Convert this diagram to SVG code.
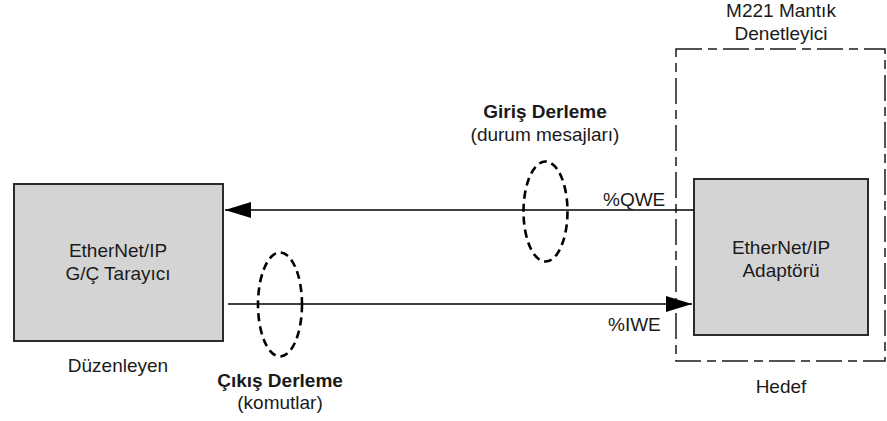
<svg xmlns="http://www.w3.org/2000/svg" width="887" height="421" viewBox="0 0 887 421">
<style>
  text { font-family: "Liberation Sans", Arial, sans-serif; font-size: 19px; fill: #1a1a1a; }
  .b { font-weight: bold; }
  .c { text-anchor: middle; }
  .box { fill: #d4d4d4; stroke: #2b2b2b; stroke-width: 2; }
  .cont { fill: none; stroke: #1a1a1a; stroke-width: 1.5; stroke-dasharray: 26 6 9 6; }
  .line { stroke: #000; stroke-width: 1.6; fill: none; }
  .ell { fill: none; stroke: #000; stroke-width: 2.6; stroke-dasharray: 8 5; }
</style>
<defs>
  <marker id="ah" markerUnits="userSpaceOnUse" markerWidth="26" markerHeight="18" refX="26" refY="9" orient="auto">
    <path d="M0,1 L26,9 L0,17 Z" fill="#000"/>
  </marker>
</defs>
<rect width="887" height="421" fill="#fff"/>

<g id="container">
  <rect class="cont" x="676" y="49" width="209" height="312"/>
  <text class="c" x="781" y="17">M221 Mantık</text>
  <text class="c" x="781" y="40">Denetleyici</text>
  <text class="c" x="781" y="393">Hedef</text>
</g>

<g id="scanner">
  <rect class="box" x="14" y="184" width="209" height="157"/>
  <text class="c" x="118" y="257">EtherNet/IP</text>
  <text class="c" x="118" y="280">G/Ç Tarayıcı</text>
  <text class="c" x="118" y="372">Düzenleyen</text>
</g>

<g id="adapter">
  <rect class="box" x="694" y="179" width="174" height="156"/>
  <text class="c" x="781" y="254">EtherNet/IP</text>
  <text class="c" x="781" y="277">Adaptörü</text>
</g>

<g id="connectors">
  <line class="line" x1="694" y1="210" x2="225" y2="210" marker-end="url(#ah)"/>
  <line class="line" x1="228" y1="304" x2="692" y2="304" marker-end="url(#ah)"/>
  <text x="603" y="206">%QWE</text>
  <text x="608" y="331">%IWE</text>
</g>

<g id="input-assembly">
  <ellipse class="ell" cx="545.5" cy="211.5" rx="22" ry="50"/>
  <text class="c b" x="545" y="118">Giriş Derleme</text>
  <text class="c" x="545" y="141">(durum mesajları)</text>
</g>

<g id="output-assembly">
  <ellipse class="ell" cx="280" cy="304.5" rx="22" ry="52"/>
  <text class="c b" x="280" y="387">Çıkış Derleme</text>
  <text class="c" x="280" y="409">(komutlar)</text>
</g>
</svg>
